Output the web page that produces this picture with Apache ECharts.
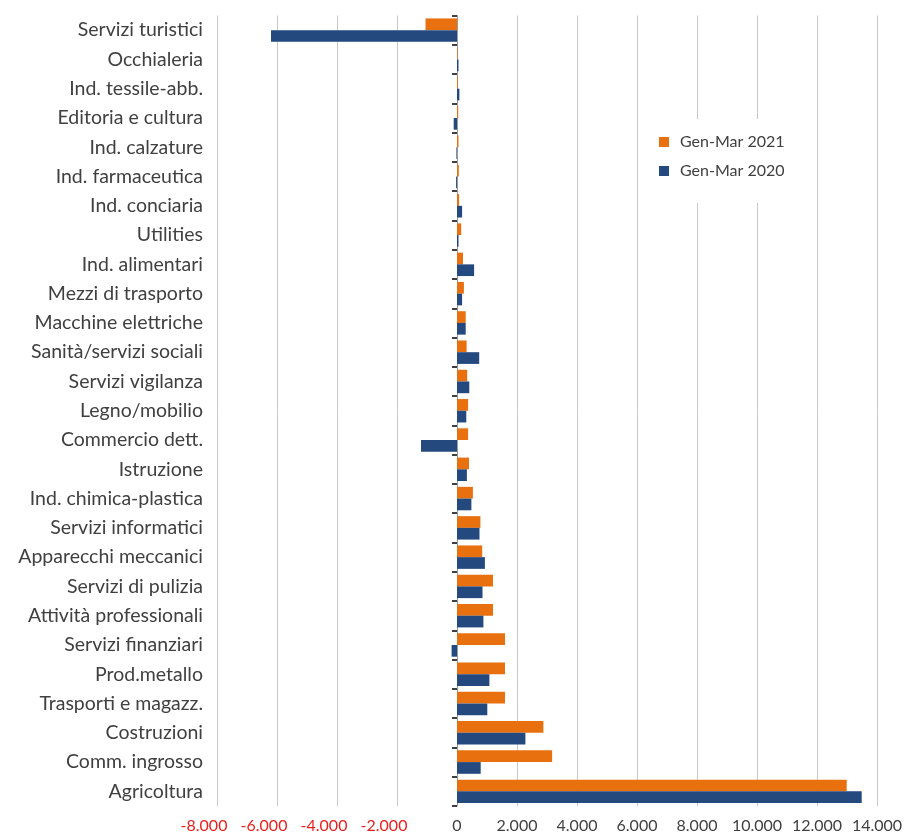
<!DOCTYPE html>
<html>
<head>
<meta charset="utf-8">
<script src="https://cdn.jsdelivr.net/npm/echarts@6/dist/echarts.min.js"></script>
<style>
  html, body { margin: 0; padding: 0; background: #fff; }
  #chart { width: 913px; height: 837px; }
</style>
</head>
<body>
<div id="chart"></div>
<script>
// Sector categories, top to bottom
const categories = [
  'Servizi turistici', 'Occhialeria', 'Ind. tessile-abb.', 'Editoria e cultura',
  'Ind. calzature', 'Ind. farmaceutica', 'Ind. conciaria', 'Utilities',
  'Ind. alimentari', 'Mezzi di trasporto', 'Macchine elettriche',
  'Sanità/servizi sociali', 'Servizi vigilanza', 'Legno/mobilio',
  'Commercio dett.', 'Istruzione', 'Ind. chimica-plastica', 'Servizi informatici',
  'Apparecchi meccanici', 'Servizi di pulizia', 'Attività professionali',
  'Servizi finanziari', 'Prod.metallo', 'Trasporti e magazz.', 'Costruzioni',
  'Comm. ingrosso', 'Agricoltura'
];

// Gen-Mar 2021
const values2021 = [
  -1050, 20, 30, 40,
  50, 60, 70, 140,
  200, 230, 290,
  320, 340, 370,
  370, 400, 530, 780,
  840, 1200, 1200,
  1600, 1600, 1600, 2880,
  3170, 12990
];

// Gen-Mar 2020
const values2020 = [
  -6200, 50, 80, -110,
  -20, -30, 170, 50,
  570, 170, 290,
  740, 410, 310,
  -1200, 330, 480, 750,
  930, 850, 880,
  -180, 1080, 1010, 2280,
  790, 13490
];

// Value axis range and step
const xMin = -8000, xMax = 14000, xStep = 2000;

const seriesNames = ['Gen-Mar 2021', 'Gen-Mar 2020'];

function fmtThousands(v) {
  const s = Math.abs(v).toString().replace(/\B(?=(\d{3})+(?!\d))/g, '.');
  return (v < 0 ? '-' : '') + s;
}

const chart = echarts.init(document.getElementById('chart'), null, { renderer: 'canvas' });

const option = {
  backgroundColor: '#ffffff',
  animation: false,
  textStyle: { fontFamily: 'Lato, "Open Sans", sans-serif' },
  grid: {
    left: 217, right: 36, top: 15.5, bottom: 31,
    containLabel: false,
    outerBoundsMode: 'none'
  },
  legend: {
    orient: 'vertical',
    left: 651,
    top: 119,
    backgroundColor: '#ffffff',
    padding: [15, 12, 24, 8],
    itemWidth: 10,
    itemHeight: 10,
    itemGap: 13,
    icon: 'rect',
    textStyle: { color: '#404040', fontSize: 16, fontFamily: 'Lato, sans-serif', padding: [0, 0, 0, 6] },
    data: seriesNames
  },
  xAxis: {
    type: 'value',
    min: xMin,
    max: xMax,
    interval: xStep,
    axisLine: { show: false },
    axisTick: { show: false },
    splitLine: { show: true, lineStyle: { color: '#c9c9c9', width: 1 } },
    axisLabel: {
      margin: 12,
      showMinLabel: true,
      showMaxLabel: true,
      formatter: v => (v < 0 ? '{neg|' + fmtThousands(v) + '}' : '{pos|' + fmtThousands(v) + '}'),
      rich: {
        neg: { color: '#e8211f', fontSize: 16, fontFamily: 'Lato, sans-serif', padding: [0, 26, 0, 0] },
        pos: { color: '#404040', fontSize: 16, fontFamily: 'Lato, sans-serif' }
      }
    }
  },
  yAxis: {
    type: 'category',
    data: categories,
    inverse: true,
    axisLine: { show: true, onZero: true, lineStyle: { color: '#9a9a9a', width: 1 } },
    axisTick: { show: true, length: 5, lineStyle: { color: '#404040', width: 2 } },
    splitLine: { show: false },
    axisLabel: {
      margin: 14,
      fontSize: 19.5,
      color: '#404040',
      fontFamily: 'Lato, sans-serif'
    }
  },
  series: [
    {
      name: seriesNames[0],
      type: 'bar',
      data: values2021,
      barGap: '0%',
      barCategoryGap: '20%',
      itemStyle: { color: '#e8700f' }
    },
    {
      name: seriesNames[1],
      type: 'bar',
      data: values2020,
      itemStyle: { color: '#23497f' }
    }
  ]
};

chart.setOption(option);
</script>
</body>
</html>
